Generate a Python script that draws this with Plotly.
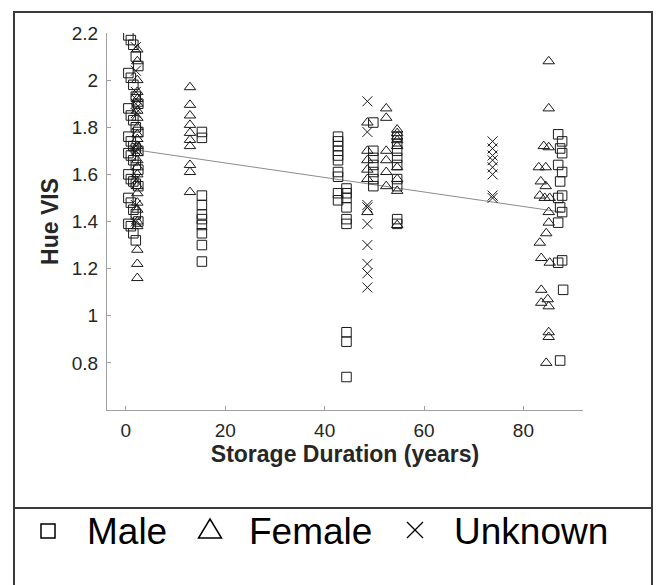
import numpy as np
import plotly.graph_objects as go

# ---------------- data ----------------
male_x = ([0.5, 1.0, 1.5, 2.0, 2.5] * 8)[:39] + \
         [15.3] * 10 + [42.7] * 10 + [44.4] * 9 + [49.8] * 7 + [54.6] * 9 + \
         [87.0, 87.8, 87.4, 87.8, 87.0, 87.8, 87.4, 87.8, 87.0, 87.4, 87.8, 87.0, 87.8, 87.0, 88.0, 87.4]
male_y = [2.19, 2.17, 2.15, 2.10, 2.06, 2.03, 2.01, 1.98, 1.93, 1.90, 1.88, 1.85, 1.83,
          1.80, 1.78, 1.76, 1.74, 1.72, 1.71, 1.70, 1.69, 1.68, 1.66, 1.64, 1.62, 1.60,
          1.58, 1.57, 1.56, 1.55, 1.50, 1.48, 1.45, 1.43, 1.40, 1.39, 1.38, 1.35, 1.32] + \
         [1.78, 1.755, 1.51, 1.47, 1.43, 1.41, 1.385, 1.35, 1.30, 1.23] + \
         [1.76, 1.74, 1.72, 1.70, 1.68, 1.66, 1.61, 1.59, 1.52, 1.49] + \
         [1.54, 1.52, 1.50, 1.46, 1.41, 1.39, 0.93, 0.89, 0.74] + \
         [1.82, 1.70, 1.67, 1.64, 1.61, 1.58, 1.55] + \
         [1.76, 1.73, 1.70, 1.67, 1.64, 1.58, 1.55, 1.41, 1.39] + \
         [1.77, 1.74, 1.71, 1.69, 1.64, 1.61, 1.57, 1.51, 1.50, 1.46, 1.44, 1.395, 1.235, 1.225, 1.11, 0.81]

female_x = [2.3] * 25 + [12.9] * 10 + [48.6] * 6 + [52.4] * 6 + [54.6] * 9 + \
           [85.1, 85.1, 84.1, 85.1, 83.1, 84.5, 83.5, 84.5, 83.3, 84.3, 85.3, 85.1,
            85.1, 84.6, 83.3, 83.6, 85.3, 83.6, 84.9, 83.6, 85.1, 85.1, 85.1, 84.6]
female_y = [2.13, 2.08, 2.00, 1.95, 1.92, 1.90, 1.87, 1.84, 1.80, 1.77, 1.75, 1.72, 1.69,
            1.66, 1.63, 1.60, 1.55, 1.52, 1.48, 1.45, 1.40, 1.38, 1.28, 1.22, 1.16] + \
           [1.97, 1.895, 1.85, 1.81, 1.776, 1.746, 1.72, 1.64, 1.61, 1.525] + \
           [1.82, 1.70, 1.66, 1.62, 1.58, 1.44] + \
           [1.88, 1.84, 1.70, 1.66, 1.61, 1.55] + \
           [1.79, 1.775, 1.76, 1.745, 1.72, 1.63, 1.58, 1.53, 1.385] + \
           [2.08, 1.88, 1.72, 1.715, 1.63, 1.63, 1.57, 1.55, 1.51, 1.50, 1.50, 1.44,
            1.395, 1.35, 1.31, 1.245, 1.225, 1.11, 1.07, 1.055, 1.04, 0.93, 0.91, 0.80]

unknown_x = [2.0] * 12 + [48.6] * 9 + [73.8] * 8
unknown_y = [2.14, 2.04, 1.95, 1.92, 1.90, 1.88, 1.86, 1.72, 1.70, 1.58, 1.47, 1.40] + \
            [1.91, 1.78, 1.47, 1.46, 1.39, 1.30, 1.22, 1.18, 1.12] + \
            [1.74, 1.71, 1.68, 1.66, 1.63, 1.60, 1.51, 1.50]

x_ticks = [0, 20, 40, 60, 80]
y_ticks = [0.8, 1.0, 1.2, 1.4, 1.6, 1.8, 2.0, 2.2]
y_ticktext = ["0.8", "1", "1.2", "1.4", "1.6", "1.8", "2", "2.2"]
legend_labels = ["Male", "Female", "Unknown"]

# ---------------- regression line from all points ----------------
all_x = np.array(male_x + female_x + unknown_x, dtype=float)
all_y = np.array(male_y + female_y + unknown_y, dtype=float)
slope, intercept = np.polyfit(all_x, all_y, 1)
fit_x = np.array([all_x.min(), all_x.max()])
fit_y = slope * fit_x + intercept

# ---------------- layout geometry (pixels) ----------------
W, H = 659, 585
L, R, T, B = 107, 583, 33, 410


def px(xp):
    return (xp - L) / (R - L)


def py(yp):
    return (B - yp) / (B - T)


INK = "#1a1a1a"

fig = go.Figure()
fig.add_trace(go.Scatter(x=fit_x, y=fit_y, mode="lines",
                         line=dict(color="#8c8c8c", width=1), showlegend=False, hoverinfo="skip"))
fig.add_trace(go.Scatter(x=male_x, y=male_y, mode="markers", name=legend_labels[0],
                         marker=dict(symbol="square-open", size=9.5, color=INK,
                                     line=dict(color=INK, width=1))))
fig.add_trace(go.Scatter(x=female_x, y=female_y, mode="markers", name=legend_labels[1],
                         marker=dict(symbol="triangle-up-open", size=10, color=INK,
                                     line=dict(color=INK, width=1))))
fig.add_trace(go.Scatter(x=unknown_x, y=unknown_y, mode="markers", name=legend_labels[2],
                         marker=dict(symbol="x-thin-open", size=10, color=INK,
                                     line=dict(color=INK, width=1))))

axis_font = dict(family="Arial, Liberation Sans, sans-serif", size=19, color="#262626")
title_font = dict(family="Arial, Liberation Sans, sans-serif", size=23, color="#262626")

fig.update_layout(
    width=W, height=H,
    margin=dict(l=L, r=W - R, t=T, b=H - B, pad=0),
    paper_bgcolor="white", plot_bgcolor="white",
    showlegend=False,
    font=dict(family="Arial, Liberation Sans, sans-serif"),
    xaxis=dict(range=[-3.8, 92], tickvals=x_ticks, ticks="inside", ticklen=4,
               tickcolor="#a0a0a0", showline=True, linecolor="#a0a0a0", linewidth=1,
               showgrid=False, zeroline=False, mirror=False, tickfont=axis_font,
               automargin=False, ticklabelstandoff=3,
               title=dict(text="<b>Storage Duration (years)</b>", font=title_font, standoff=4)),
    yaxis=dict(range=[0.6, 2.2], tickvals=y_ticks, ticktext=y_ticktext, ticks="inside",
               ticklen=4, tickcolor="#a0a0a0", showline=True, linecolor="#a0a0a0",
               linewidth=1, showgrid=False, zeroline=False, mirror=False, tickfont=axis_font,
               automargin=False, ticklabelstandoff=4,
               title=dict(text="<b>Hue VIS</b>", font=title_font, standoff=6)),
)

shapes = []
# outer frame and divider
shapes.append(dict(type="rect", xref="paper", yref="paper", x0=px(14), x1=px(652),
                   y0=py(12), y1=py(640), line=dict(color="#3a3a3a", width=2)))
shapes.append(dict(type="line", xref="paper", yref="paper", x0=px(14), x1=px(652),
                   y0=py(508), y1=py(508), line=dict(color="#3a3a3a", width=2)))
# legend symbols
shapes.append(dict(type="rect", xref="paper", yref="paper", x0=px(41), x1=px(55),
                   y0=py(538), y1=py(524), line=dict(color="black", width=1.5)))
shapes.append(dict(type="path", xref="paper", yref="paper",
                   path=f"M {px(198.5)} {py(538)} L {px(221.5)} {py(538)} L {px(210)} {py(519)} Z",
                   line=dict(color="black", width=1.5)))
shapes.append(dict(type="line", xref="paper", yref="paper", x0=px(407), x1=px(423),
                   y0=py(522), y1=py(538), line=dict(color="black", width=1.3)))
shapes.append(dict(type="line", xref="paper", yref="paper", x0=px(407), x1=px(423),
                   y0=py(538), y1=py(522), line=dict(color="black", width=1.3)))
fig.update_layout(shapes=shapes)

legend_font = dict(family="Arial, Liberation Sans, sans-serif", size=37, color="black")
for lab, xpos in zip(legend_labels, [85, 247, 452]):
    fig.add_annotation(text=lab, xref="paper", yref="paper", x=px(xpos), y=py(531),
                       xanchor="left", yanchor="middle", showarrow=False, font=legend_font)

fig.write_html("out.html")
